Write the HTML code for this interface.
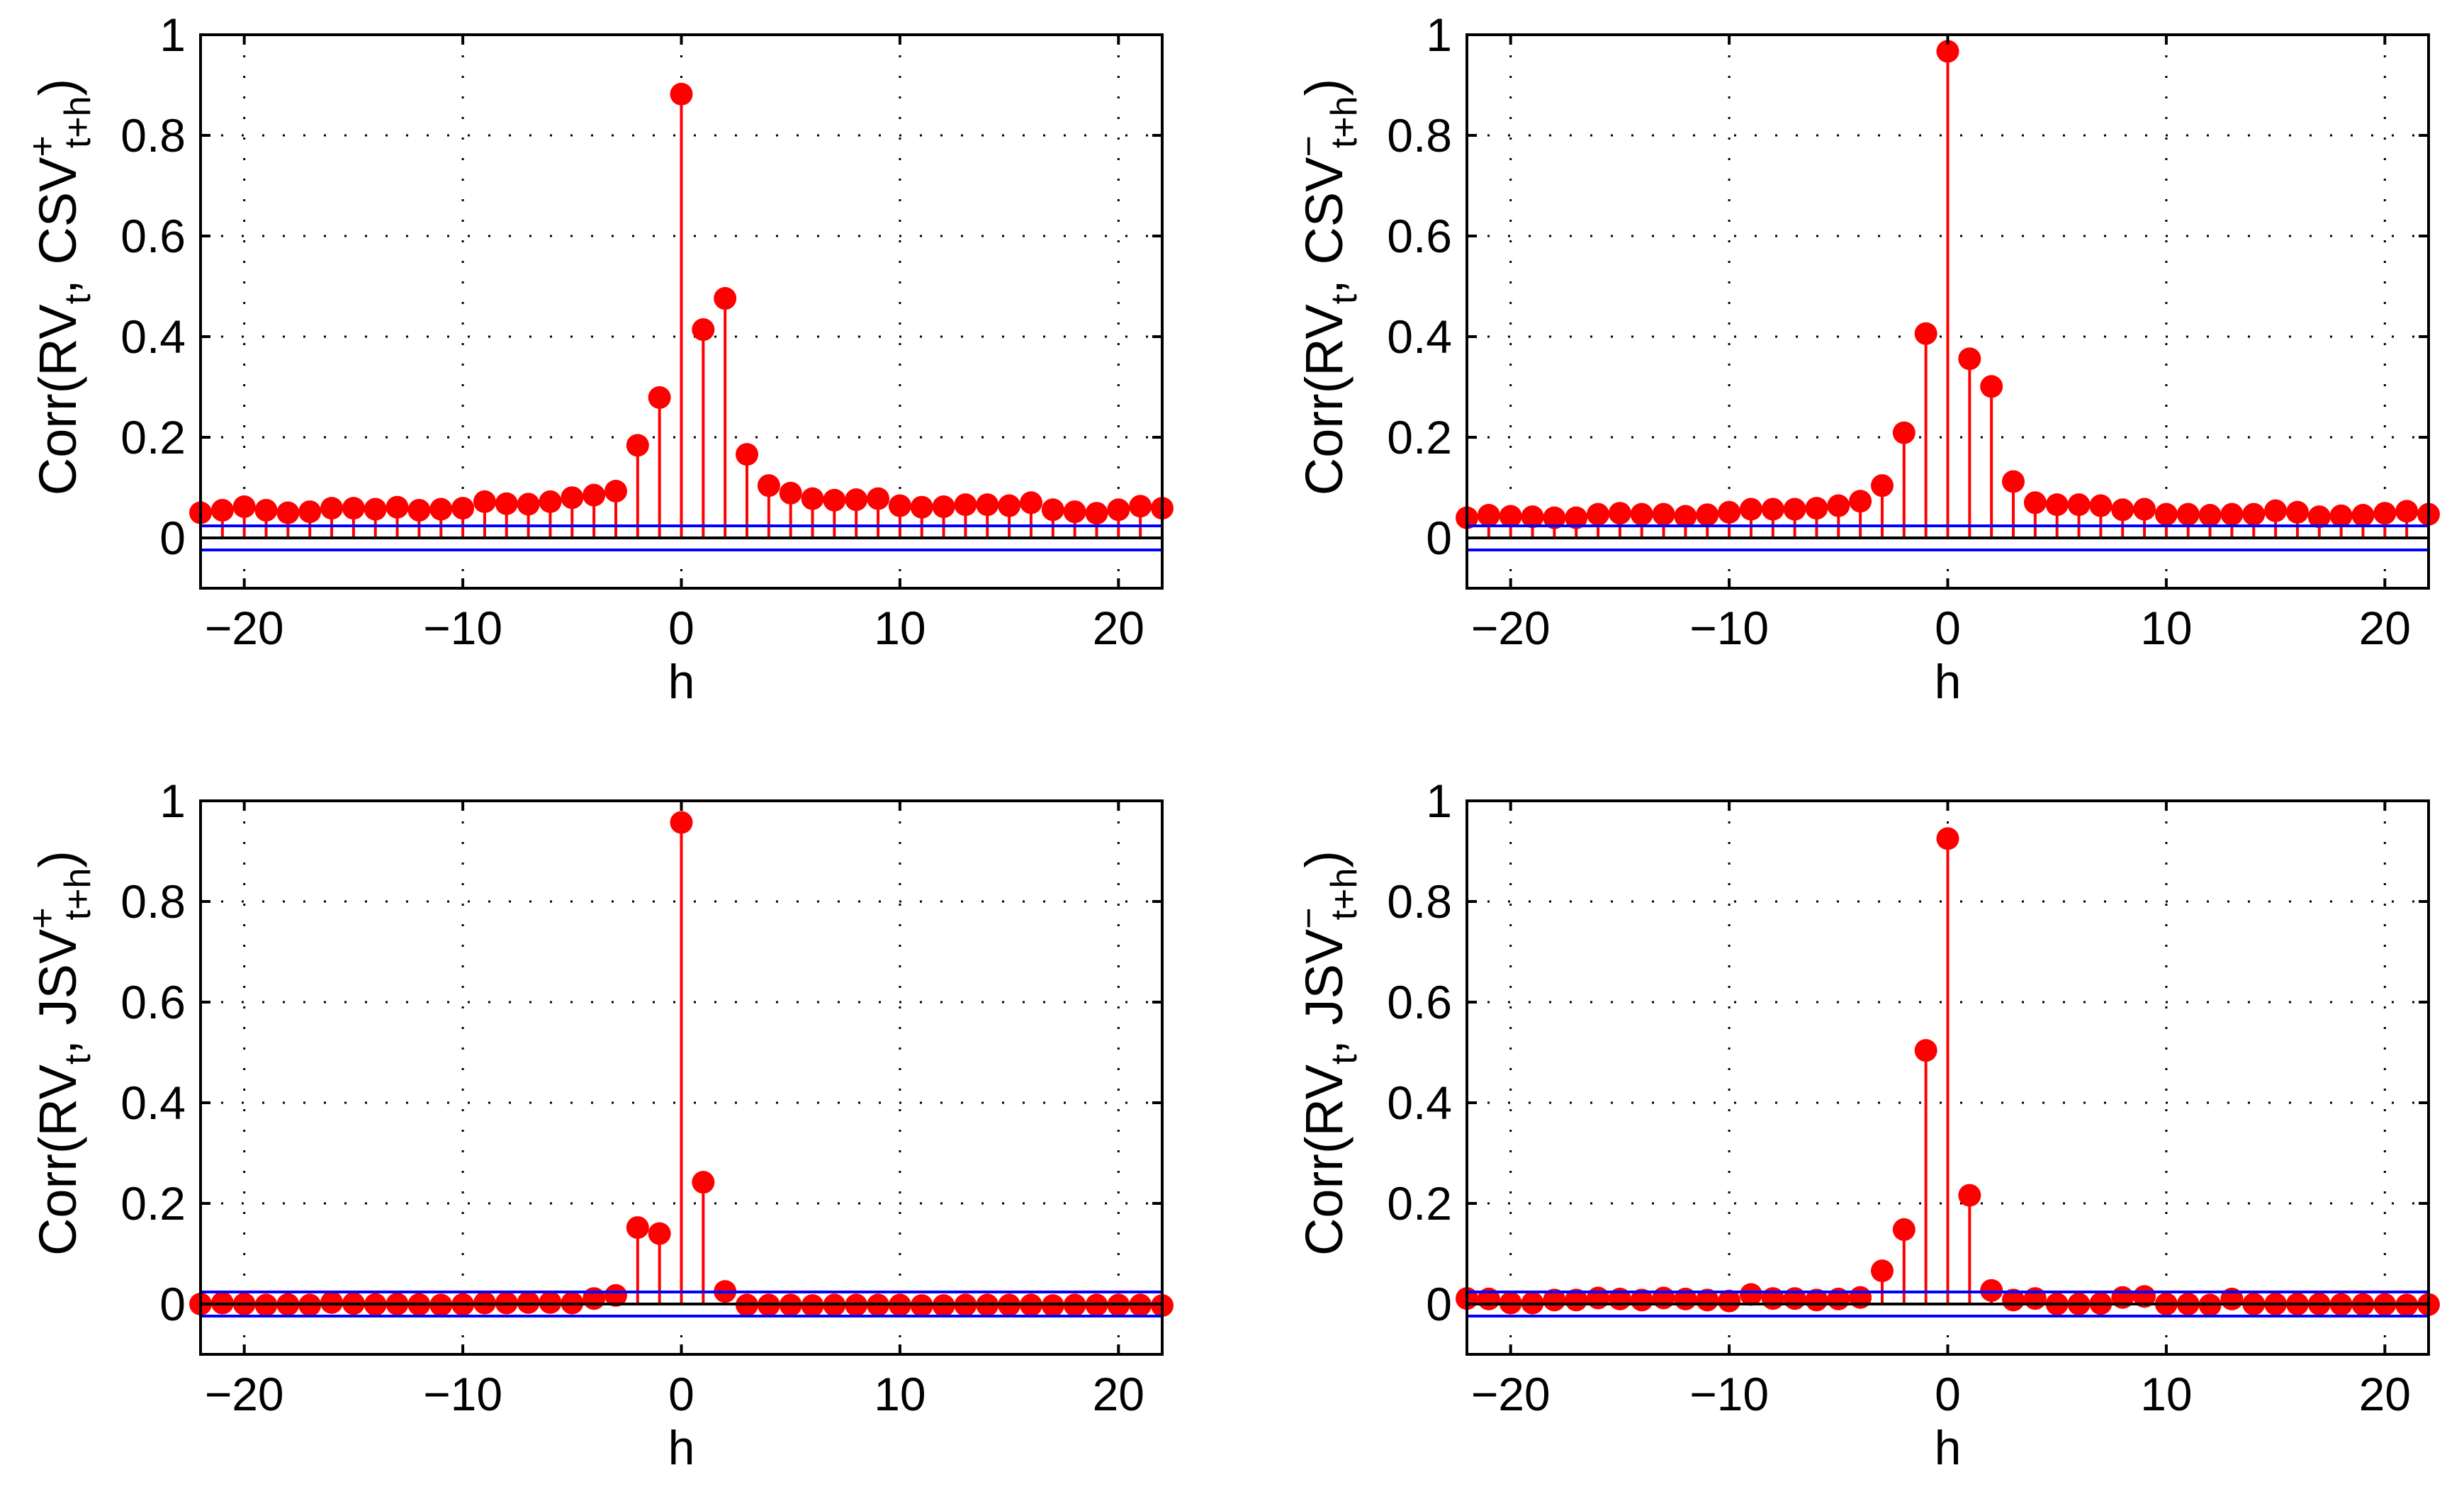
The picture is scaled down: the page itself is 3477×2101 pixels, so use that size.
<!DOCTYPE html>
<html><head><meta charset="utf-8"><style>
html,body{margin:0;padding:0;background:#fff;}
svg{display:block;font-family:"Liberation Sans",Arial,sans-serif;}
</style></head><body>
<svg id="fig" width="3477" height="2101" viewBox="0 0 3477 2101" xmlns="http://www.w3.org/2000/svg"></svg>
<script>
const lags = [-22,-21,-20,-19,-18,-17,-16,-15,-14,-13,-12,-11,-10,-9,-8,-7,-6,-5,-4,-3,-2,-1,0,1,2,3,4,5,6,7,8,9,10,11,12,13,14,15,16,17,18,19,20,21,22];
const csvPlus = [0.05,0.055,0.062,0.055,0.05,0.052,0.059,0.059,0.057,0.061,0.055,0.057,0.059,0.072,0.068,0.067,0.072,0.08,0.085,0.093,0.184,0.279,0.882,0.414,0.476,0.166,0.104,0.089,0.078,0.075,0.076,0.078,0.064,0.061,0.062,0.066,0.066,0.064,0.07,0.056,0.052,0.049,0.056,0.063,0.059];
const csvMinus = [0.04,0.045,0.043,0.042,0.04,0.04,0.047,0.049,0.047,0.047,0.043,0.046,0.051,0.057,0.057,0.057,0.059,0.064,0.073,0.104,0.209,0.406,0.967,0.356,0.301,0.112,0.07,0.066,0.066,0.064,0.056,0.057,0.047,0.047,0.045,0.047,0.047,0.054,0.051,0.042,0.044,0.045,0.049,0.053,0.047];
const jsvPlus = [0,0.002,0,-0.002,-0.001,-0.002,0.003,0.001,-0.001,0,-0.001,-0.002,-0.001,0.002,0.002,0.003,0.003,0.002,0.011,0.017,0.152,0.14,0.957,0.242,0.025,-0.002,-0.002,-0.002,-0.003,-0.002,-0.002,-0.002,-0.002,-0.003,-0.003,-0.002,-0.002,-0.002,-0.002,-0.003,-0.002,-0.002,-0.002,-0.002,-0.003];
const jsvMinus = [0.011,0.01,0.002,0.002,0.008,0.008,0.012,0.01,0.008,0.012,0.01,0.008,0.006,0.019,0.011,0.011,0.008,0.01,0.013,0.066,0.148,0.504,0.925,0.216,0.027,0.008,0.011,0,0,0.001,0.013,0.015,0,0,-0.002,0.01,0,0,0,0,-0.001,-0.001,-0.001,-0.002,-0.001];
const confBand = [0.024, 0.024, 0.024, 0.024];
const xTicks = [-20,-10,0,10,20];
const yTicks = [0,0.2,0.4,0.6,0.8,1];
const yTickLabels = ["0","0.2","0.4","0.6","0.8","1"];

const NS = "http://www.w3.org/2000/svg";
const svg = document.getElementById('fig');
function mk(tag, attrs, parent){ const e=document.createElementNS(NS,tag); for(const k in attrs) e.setAttribute(k,attrs[k]); (parent||svg).appendChild(e); return e; }

const panels = [
  {vals: csvPlus, name:'csv-plus', ox:0, oy:0, lab:'CSV', sup:'+', band:confBand[0]},
  {vals: csvMinus, name:'csv-minus', ox:1787, oy:0, lab:'CSV', sup:'\u2212', band:confBand[1]},
  {vals: jsvPlus, name:'jsv-plus', ox:0, oy:1081, lab:'JSV', sup:'+', band:confBand[2]},
  {vals: jsvMinus, name:'jsv-minus', ox:1787, oy:1081, lab:'JSV', sup:'\u2212', band:confBand[3]}
];

panels.forEach(p => {
  const L = 283 + p.ox, R = 1640 + p.ox;
  const Y0 = 759 + p.oy, S = 710;
  const xs = v => L + (v + 22) * (R - L) / 44;
  const ys = v => Y0 - v * S;
  const T = ys(1), B = ys(-0.1);
  const g = mk('g', {});
  
  
  xTicks.forEach(t => {
    const l = mk('line', {x1:xs(t), x2:xs(t), y1:T, y2:B, stroke:'#000', 'stroke-width':3, 'stroke-dasharray':'3,26'}, g);
    
    
  });
  yTicks.forEach(t => {
    if (t === 0 || t === 1) return;
    const l = mk('line', {x1:L, x2:R, y1:ys(t), y2:ys(t), stroke:'#000', 'stroke-width':3, 'stroke-dasharray':'3,26'}, g);
    
    
  });
  lags.forEach((h, i) => {
    const v = p.vals[i];
    const s = mk('line', {x1:xs(h), x2:xs(h), y1:ys(0), y2:ys(v), stroke:'#ff0000', 'stroke-width':4}, g);
    
    
    const c = mk('circle', {cx:xs(h), cy:ys(v), r:16, fill:'#ff0000'}, g);
    
    
  });
  const z = mk('line', {x1:L, x2:R, y1:ys(0), y2:ys(0), stroke:'#000', 'stroke-width':4}, g);
  
  
  [p.band, -p.band].forEach(b => {
    const bl = mk('line', {x1:L, x2:R, y1:ys(b), y2:ys(b), stroke:'#0000ff', 'stroke-width':4}, g);
    
    
  });
  const box = mk('rect', {x:L, y:T, width:R-L, height:B-T, fill:'none', stroke:'#000', 'stroke-width':4}, g);
  
  
  xTicks.forEach(t => {
    const a = mk('path', {d:`M${xs(t)},${B}v-14M${xs(t)},${T}v14`, stroke:'#000', 'stroke-width':4}, g);
    
    
    const tx = mk('text', {x:xs(t), y:ys(-0.1)+79, 'font-size':66, 'text-anchor':'middle'}, g);
    
    
    tx.textContent = (t < 0 ? '\u2212' + (-t) : String(t));
  });
  yTicks.forEach((t, i) => {
    const a = mk('path', {d:`M${L},${ys(t)}h14M${R},${ys(t)}h-14`, stroke:'#000', 'stroke-width':4}, g);
    
    
    const tx = mk('text', {x:L-21, y:ys(t)+23, 'font-size':66, 'text-anchor':'end'}, g);
    
    
    tx.textContent = yTickLabels[i];
  });
  const xl = mk('text', {x:xs(0), y:ys(-0.1)+155, 'font-size':68, 'text-anchor':'middle'}, g);
  
  
  xl.textContent = 'h';
  const yl = mk('text', {transform:`translate(${L-200},${T+356}) rotate(-90)`, 'font-size':74, 'text-anchor':'middle', y:24}, g);
  
  
  yl.innerHTML = `Corr(RV<tspan font-size="52" dy="20">t</tspan><tspan dy="-20">, ${p.lab}</tspan><tspan font-size="52" dy="-30">${p.sup}</tspan><tspan font-size="52" dx="-18" dy="50">t+h</tspan><tspan dy="-20">)</tspan>`;
});
</script>
</body></html>
